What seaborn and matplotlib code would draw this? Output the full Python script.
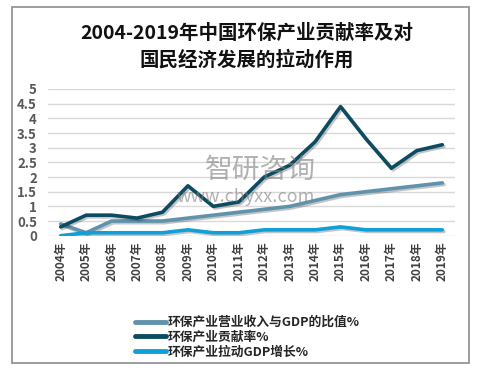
import matplotlib
matplotlib.use("Agg")
import matplotlib.pyplot as plt
import matplotlib.patheffects as pe
import seaborn as sns
import pandas as pd
from matplotlib.patches import Rectangle

years = ["2004年", "2005年", "2006年", "2007年", "2008年", "2009年", "2010年", "2011年",
         "2012年", "2013年", "2014年", "2015年", "2016年", "2017年", "2018年", "2019年"]
ratio_gdp = [0.4, 0.1, 0.5, 0.5, 0.5, 0.6, 0.7, 0.8, 0.9, 1.0, 1.2, 1.4, 1.5, 1.6, 1.7, 1.8]
contribution = [0.3, 0.7, 0.7, 0.6, 0.8, 1.7, 1.0, 1.15, 2.0, 2.4, 3.2, 4.4, 3.3, 2.3, 2.9, 3.1]
pull_gdp = [0.0, 0.1, 0.1, 0.1, 0.1, 0.2, 0.1, 0.1, 0.2, 0.2, 0.2, 0.3, 0.2, 0.2, 0.2, 0.2]
series_names = ["环保产业营业收入与GDP的比值%", "环保产业贡献率%", "环保产业拉动GDP增长%"]
colors = ["#5F93AD", "#0C4B62", "#0FA0D8"]
title = "2004-2019年中国环保产业贡献率及对\n国民经济发展的拉动作用"

sns.set_theme(style="white")
plt.rcParams['font.family'] = ['Noto Sans CJK SC', 'DejaVu Sans']

df = pd.DataFrame({"year": years * 3,
                   "value": ratio_gdp + contribution + pull_gdp,
                   "series": [series_names[0]] * 16 + [series_names[1]] * 16 + [series_names[2]] * 16})

fig = plt.figure(figsize=(4.94, 3.72), dpi=100)
ax = fig.add_axes([48 / 494, 1 - 235.7 / 372, (455 - 48) / 494, (235.7 - 89) / 372])

sns.lineplot(data=df, x="year", y="value", hue="series", palette=colors, sort=False,
             linewidth=2.6, ax=ax, legend=True)
for ln in ax.get_lines():
    ln.set_path_effects([pe.SimpleLineShadow(offset=(1.2, -1.2), alpha=0.25), pe.Normal()])
    ln.set_solid_capstyle("round")
    ln.set_solid_joinstyle("round")

ax.set_xlim(-0.5, 15.5)
ax.set_ylim(0, 5)
ax.set_yticks([0, 0.5, 1, 1.5, 2, 2.5, 3, 3.5, 4, 4.5, 5])
ax.set_yticklabels(["0", "0.5", "1", "1.5", "2", "2.5", "3", "3.5", "4", "4.5", "5"])
ax.grid(axis="y", color="#D9D9D9", linewidth=1)
ax.set_axisbelow(True)
for s in ax.spines.values():
    s.set_visible(False)
ax.set_xlabel("")
ax.set_ylabel("")
ax.tick_params(axis="y", length=0, pad=8, labelsize=9.5, labelcolor="#595959")
ax.tick_params(axis="x", length=0, pad=4, labelsize=8.5, labelcolor="#404040", rotation=90)
for t in ax.get_yticklabels() + ax.get_xticklabels():
    t.set_fontweight("bold")

leg = ax.legend(loc="upper left", bbox_to_anchor=(130 / 494, 1 - 311 / 372),
                bbox_transform=fig.transFigure, frameon=False, handlelength=2.4,
                handletextpad=0.15, labelspacing=0.12, borderaxespad=0,
                prop={"size": 9.2, "weight": "bold"})
for h in leg.get_lines():
    h.set_linewidth(3.5)
    h.set_path_effects([])

fig.text(0.5, 1 - 46.5 / 372, title, ha="center", va="center", fontsize=14,
         fontweight="bold", color="#111111", linespacing=1.45)

fig.text(260 / 494, 1 - 170 / 372, "智研咨询", ha="center", va="center", fontsize=20,
         color="#7F7F7F", alpha=0.6, zorder=5)
fig.text(246 / 494, 1 - 197 / 372, "www.chyxx.com", ha="center", va="center", fontsize=13,
         color="#7F7F7F", alpha=0.6, zorder=5)

fig.patches.append(Rectangle((12 / 494, 1 - 363 / 372), (469 - 12) / 494, (363 - 7) / 372,
                             transform=fig.transFigure, fill=False, edgecolor="#8C8C8C",
                             linewidth=1.2))

fig.savefig("out.png", dpi=100, facecolor="white")
